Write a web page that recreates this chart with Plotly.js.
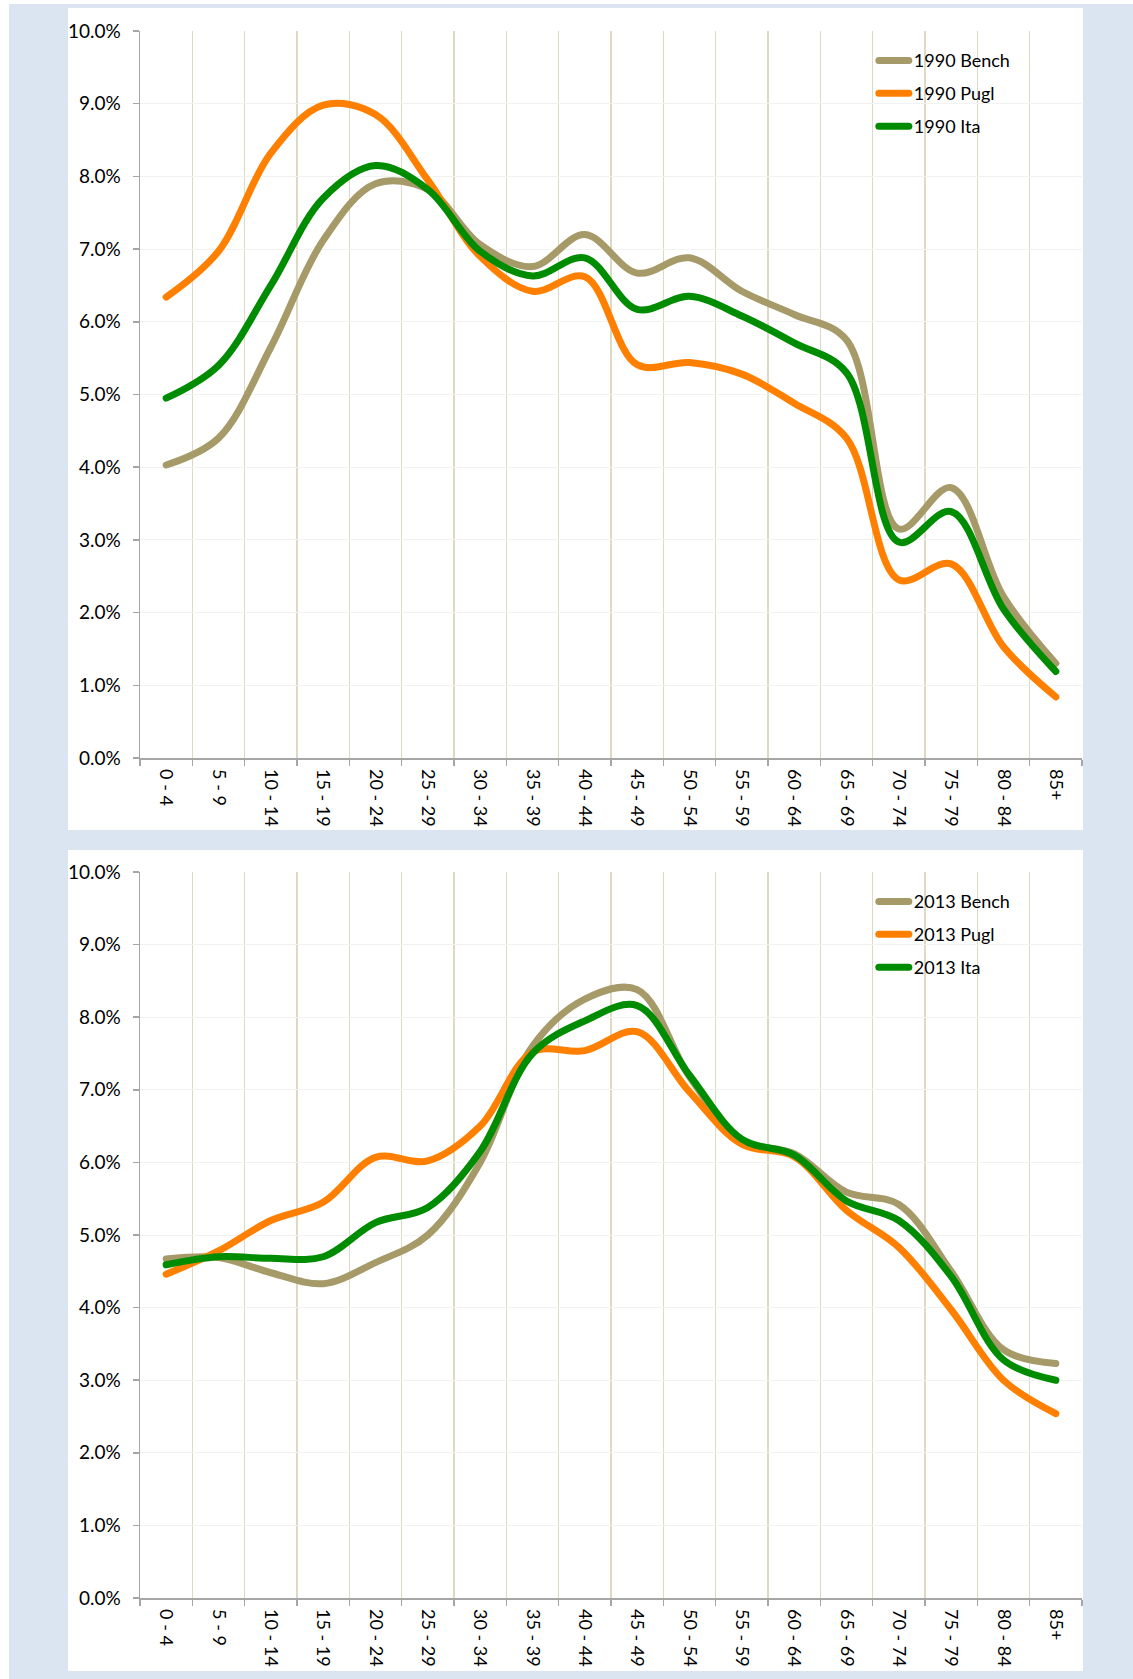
<!DOCTYPE html>
<html><head><meta charset="utf-8">
<script src="https://cdn.plot.ly/plotly-3.0.1.min.js"></script>
<style>
html,body{margin:0;padding:0;background:#fff;overflow:hidden;}
#bg{position:absolute;left:9px;top:4px;width:1124px;height:1675px;background:#DBE5F1;}
#c1{position:absolute;left:68px;top:8px;width:1015px;height:822px;background:#fff;}
#c2{position:absolute;left:68px;top:850px;width:1015px;height:821px;background:#fff;}
path.js-line, .legendlines path{stroke-linecap:round !important; stroke-linejoin:round !important;}
</style></head><body>
<div id="bg"></div><div id="c1"></div><div id="c2"></div>
<script>
const categories = ['0 - 4','5 - 9','10 - 14','15 - 19','20 - 24','25 - 29','30 - 34','35 - 39','40 - 44','45 - 49','50 - 54','55 - 59','60 - 64','65 - 69','70 - 74','75 - 79','80 - 84','85+'];

const bench1990 = [4.03, 4.40, 5.65, 7.12, 7.90, 7.82, 7.06, 6.76, 7.20, 6.67, 6.88, 6.42, 6.10, 5.75, 3.15, 3.72, 2.22, 1.30];
const pugl1990  = [6.34, 6.97, 8.32, 8.98, 8.85, 7.95, 6.90, 6.42, 6.62, 5.41, 5.44, 5.28, 4.88, 4.40, 2.45, 2.67, 1.53, 0.84];
const ita1990   = [4.95, 5.40, 6.50, 7.70, 8.15, 7.82, 6.97, 6.63, 6.88, 6.17, 6.35, 6.08, 5.71, 5.30, 2.97, 3.39, 2.05, 1.19];

const bench2013 = [4.67, 4.69, 4.48, 4.33, 4.62, 5.00, 6.00, 7.60, 8.25, 8.38, 7.18, 6.30, 6.12, 5.59, 5.42, 4.50, 3.42, 3.23];
const pugl2013  = [4.46, 4.78, 5.20, 5.45, 6.07, 6.02, 6.50, 7.52, 7.54, 7.80, 6.97, 6.25, 6.08, 5.34, 4.83, 3.97, 3.00, 2.54];
const ita2013   = [4.59, 4.70, 4.68, 4.70, 5.17, 5.38, 6.15, 7.50, 7.95, 8.16, 7.20, 6.32, 6.10, 5.47, 5.20, 4.43, 3.28, 3.00];

const names1990 = ['1990 Bench','1990 Pugl','1990 Ita'];
const names2013 = ['2013 Bench','2013 Pugl','2013 Ita'];
const colors = ['#A59A68','#FF8000','#008C00'];

function traces(series, names){
  return series.map((s,i)=>({
    type:'scatter', mode:'lines', x:categories, y:s, name:names[i],
    legendgroup:'g'+i,
    line:{color:colors[i], width:7, shape:'spline', smoothing:1}
  }));
}

function layout(h, t, b){
  const axisGray = '#A6A6A6';
  const fy = {family:'Lato, sans-serif', size:19, color:'#000'};
  const fx = {family:'Lato, sans-serif', size:18, color:'#000'};
  return {
    width:1015, height:h,
    margin:{l:72, r:1, t:t, b:b, pad:0},
    paper_bgcolor:'#ffffff', plot_bgcolor:'#ffffff',
    font:fx,
    showlegend:true,
    legend:{x:0.779, y:0.9845, xanchor:'left', yanchor:'top', bgcolor:'rgba(0,0,0,0)',
            traceorder:'grouped', tracegroupgap:6.5, font:fx},
    xaxis:{type:'category', range:[-0.5,17.5], tickson:'boundaries', ticks:'outside', ticklen:6,
           tickcolor:axisGray, tickwidth:1.5, showline:true, linecolor:axisGray, linewidth:1.5,
           showgrid:true, gridcolor:'#DDD9C3', gridwidth:1.5, tickangle:90, zeroline:false,
           ticklabelstandoff:6, tickfont:fx},
    yaxis:{range:[0,10], tick0:0, dtick:1, tickformat:'.1f', ticksuffix:'%', ticks:'outside', ticklen:6,
           tickcolor:axisGray, tickwidth:1.5, showline:true, linecolor:axisGray, linewidth:1.5,
           showgrid:true, gridcolor:'#F2F2F2', gridwidth:1, zeroline:false,
           ticklabelstandoff:8, tickfont:fy}
  };
}

const cfg = {displayModeBar:false, staticPlot:true};
Plotly.newPlot('c1', traces([bench1990, pugl1990, ita1990], names1990), layout(822, 23, 72), cfg);
Plotly.newPlot('c2', traces([bench2013, pugl2013, ita2013], names2013), layout(821, 22, 73), cfg);
</script></body></html>
